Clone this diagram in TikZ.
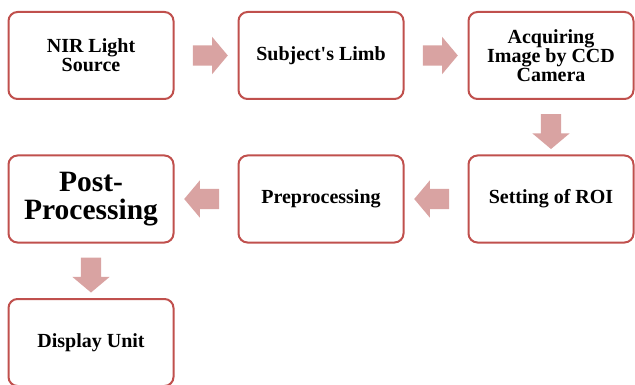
\documentclass[tikz,border=0pt]{standalone}
\usepackage{fontspec}
\setmainfont{Liberation Serif}
\usepackage{xcolor}
\usepackage{tikz}
\usetikzlibrary{calc}
\usetikzlibrary{shapes.arrows, positioning}

\definecolor{boxred}{RGB}{192,80,77}
\definecolor{arrowpink}{RGB}{217,163,162}

\begin{document}
\begin{tikzpicture}[x=1pt,y=-1pt,node distance=230pt,
                    main node/.style={rectangle,rounded corners=9pt,draw=boxred,line width=2pt,fill=white,
                                      minimum width=165pt,minimum height=87pt,align=center,
                                      font=\fontsize{20}{19}\selectfont\bfseries},
                    flow arrow/.style={single arrow,fill=arrowpink,draw=none,inner xsep=0pt,inner ysep=10pt,
                                       minimum width=0pt,minimum height=35pt,
                                       single arrow head extend=8.5pt,single arrow tip angle=100}]

  \useasboundingbox (0,0) rectangle (635,385);

  \node[main node] (1) at (91,55.5) {NIR Light\\Source};
  \node[main node] (2) [right of=1] {Subject\textquotesingle s Limb};
  \node[main node] (3) [right of=2] {Acquiring\\Image by CCD\\Camera};
  \node[main node] (4) [below of=3, node distance=143.5pt] {Setting of ROI};
  \node[main node] (5) [left of=4] {Preprocessing};
  \node[main node, font=\fontsize{29.5}{28.5}\selectfont\bfseries] (6) [left of=5] {Post-\\Processing};
  \node[main node] (7) [below of=6, node distance=143.5pt] {Display Unit};

  % block arrows between the boxes
  \node[flow arrow] (a1) at ($(1.east)!0.5!(2.west)$) {};
  \node[flow arrow] (a2) at ($(2.east)!0.5!(3.west)$) {};
  \node[flow arrow, rotate=-90] (a3) at ($(3.south)!0.5!(4.north)$) {};
  \node[flow arrow, rotate=180] (a4) at ($(4.west)!0.5!(5.east)$) {};
  \node[flow arrow, rotate=180] (a5) at ($(5.west)!0.5!(6.east)$) {};
  \node[flow arrow, rotate=-90] (a6) at ($(6.south)!0.5!(7.north)$) {};

\end{tikzpicture}
\end{document}
